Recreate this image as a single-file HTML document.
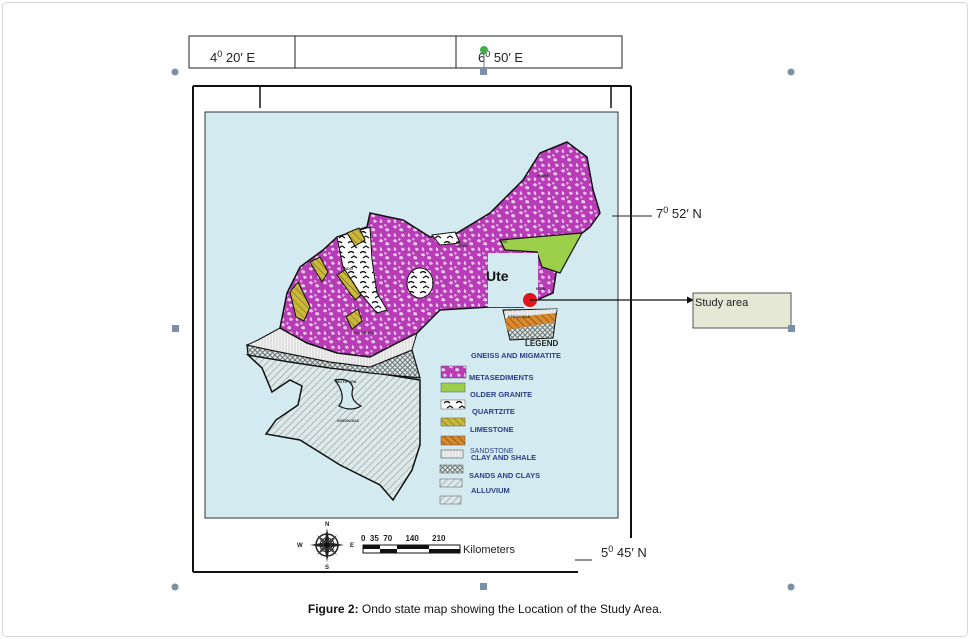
<!DOCTYPE html>
<html><head><meta charset="utf-8"><style>
html,body{margin:0;padding:0;background:#fff;}
svg{display:block;}
text{font-family:"Liberation Sans",sans-serif;}
.lg{font-size:7.5px;font-weight:bold;fill:#2b3f88;}
</style></head><body>
<svg width="970" height="639" viewBox="0 0 970 639" xmlns="http://www.w3.org/2000/svg">
<defs>
<pattern id="pink" width="14" height="14" patternUnits="userSpaceOnUse">
<rect width="14" height="14" fill="#b83cb8"/>
<path d="M1 2 q3 -2 4 1 q-1 3 -4 0z M8 4 q4 0 3 3 q-3 1 -4 -1z M2 9 q3 1 2 4 q-3 0 -2 -3z M9 10 q3 -1 4 2 l-3 1z M6 0 l3 1 -2 2z" fill="#ecc8ea"/>
</pattern>
<pattern id="hatch" width="5" height="5" patternUnits="userSpaceOnUse" patternTransform="rotate(45)">
<rect width="5" height="5" fill="#dde8e8"/><line x1="0" y1="0" x2="0" y2="5" stroke="#8a9a9a" stroke-width="1.2"/>
</pattern>
<pattern id="check" width="5" height="5" patternUnits="userSpaceOnUse">
<rect width="5" height="5" fill="#e2e8e8"/><path d="M0 0L5 5M5 0L0 5" stroke="#6a7575" stroke-width="1"/>
</pattern>
<pattern id="sand" width="3" height="6" patternUnits="userSpaceOnUse">
<rect width="3" height="6" fill="#f2f2f2"/><line x1="1" y1="0" x2="1" y2="6" stroke="#c8c8c8" stroke-width="0.8"/>
</pattern>
<pattern id="lime" width="5" height="5" patternUnits="userSpaceOnUse" patternTransform="rotate(-45)">
<rect width="5" height="5" fill="#c9b83a"/><line x1="0" y1="0" x2="0" y2="5" stroke="#6d5a1a" stroke-width="1"/>
</pattern>
<pattern id="orng" width="5" height="5" patternUnits="userSpaceOnUse" patternTransform="rotate(-45)">
<rect width="5" height="5" fill="#d98a2c"/><line x1="0" y1="0" x2="0" y2="5" stroke="#5a3a10" stroke-width="1"/>
</pattern>
<pattern id="qtz" width="12" height="10" patternUnits="userSpaceOnUse">
<rect width="12" height="10" fill="#fff"/><path d="M0 3 q3 -3 6 0 M3 8 l3 -2 3 2" stroke="#111" stroke-width="1.3" fill="none"/>
</pattern>
</defs>
<rect x="2.5" y="2.5" width="965" height="634" rx="4" fill="#fff" stroke="#d8d8d8"/>

<rect x="189" y="36" width="433" height="32" fill="#fff" stroke="#222" stroke-width="1"/>
<line x1="295" y1="36" x2="295" y2="68" stroke="#222"/>
<line x1="456" y1="36" x2="456" y2="68" stroke="#222"/>
<text x="210" y="62" font-size="13" fill="#222">4<tspan dy="-5" font-size="9">0</tspan><tspan dy="5"> 20′ E</tspan></text>
<text x="478" y="62" font-size="13" fill="#222">6<tspan dy="-5" font-size="9">0</tspan><tspan dy="5"> 50′ E</tspan></text>
<circle cx="484" cy="50" r="4" fill="#3cb043"/>
<line x1="484" y1="52" x2="484" y2="70" stroke="#777"/>

<line x1="193" y1="86" x2="631" y2="86" stroke="#111" stroke-width="2"/>
<line x1="193" y1="86" x2="193" y2="572" stroke="#111" stroke-width="2"/>
<line x1="631" y1="86" x2="631" y2="538" stroke="#111" stroke-width="2"/>
<line x1="193" y1="572" x2="578" y2="572" stroke="#111" stroke-width="2"/>
<line x1="260" y1="86" x2="260" y2="108" stroke="#111" stroke-width="1.5"/>
<line x1="611" y1="86" x2="611" y2="108" stroke="#111" stroke-width="1.5"/>

<rect x="205" y="112" width="413" height="406" fill="#d3eaf0" stroke="#333" stroke-width="1"/>

<path d="M248 355 L262 368 L272 392 L290 380 L302 386 L298 405 L276 420 L266 434 L300 440 L340 465 L380 485 L393 500 L412 470 L420 445 L420 380 L370 372 L330 368 L290 362Z" fill="url(#hatch)" stroke="#111" stroke-width="1.5"/>
<path d="M335 380 q15 -3 18 8 q-4 12 8 18 q-10 6 -22 0 q8 -10 -4 -26z" fill="#d3eaf0" stroke="#111" stroke-width="1.2"/>
<path d="M247 345 L270 350 L330 362 L370 367 L412 350 L420 378 L370 373 L330 368 L290 362 L248 355Z" fill="url(#check)" stroke="#111" stroke-width="1.2"/>
<path d="M258 340 L280 328 L307 343 L337 353 L370 357 L397 343 L417 333 L412 350 L370 367 L330 362 L270 350 L247 345Z" fill="url(#sand)" stroke="#111" stroke-width="1"/>
<path d="M280 328 L287 293 L300 267 L323 250 L337 237 L367 227 L370 213 L403 220 L430 237 L457 233 L490 213 L523 180 L540 153 L567 142 L587 157 L593 190 L600 213 L590 227 L577 237 L557 267 L553 293 L537 300 L523 307 L490 307 L440 310 L417 333 L397 343 L370 357 L337 353 L307 343Z" fill="url(#pink)" stroke="#111" stroke-width="1.5"/>
<path d="M337 237 L370 227 L372 260 L377 293 L387 310 L377 313 L360 293 L343 267Z" fill="url(#qtz)" stroke="#111" stroke-width="1"/>
<ellipse cx="420" cy="283" rx="13" ry="15" fill="url(#qtz)" stroke="#111"/>
<path d="M432 235 L455 232 L460 243 L440 245Z" fill="url(#qtz)" stroke="#111"/>
<path d="M310 262 l10 -5 l8 15 l-6 10z" fill="url(#lime)" stroke="#111"/>
<path d="M290 292 l8 -10 l12 25 l-6 14 l-8 -4z" fill="url(#lime)" stroke="#111"/>
<path d="M337 275 l8 -5 l16 25 l-6 5z" fill="url(#lime)" stroke="#111"/>
<path d="M346 317 l12 -8 l4 12 l-10 8z" fill="url(#lime)" stroke="#111"/>
<path d="M347 233 l12 -5 l6 12 l-10 6z" fill="url(#lime)" stroke="#111"/>
<path d="M500 240 L582 233 L560 273 L542 267 L537 252 L505 250Z" fill="#9dd04a" stroke="#111" stroke-width="1.2"/>
<rect x="488" y="253" width="50" height="54" fill="#d3eaf0"/>
<text x="486" y="281" font-size="14" font-weight="bold" fill="#111">Ute</text>
<path d="M503 310 L557 309 L553 338 L510 340Z" fill="url(#check)" stroke="#111"/>
<path d="M505 318 L556 312 L555 322 L507 330Z" fill="url(#orng)"/>
<path d="M504 311 L557 309 L556 313 L505 318Z" fill="url(#sand)"/>
<text x="525" y="346" font-size="8" font-weight="bold" fill="#222">LEGEND</text>
<g font-size="4" fill="#333" font-weight="bold">
<text x="537" y="177">IKARE</text><text x="500" y="243">IDO</text><text x="458" y="247">OWO</text><text x="341" y="270">ONDO</text>
<text x="353" y="334">OKITIPUPA</text><text x="536" y="290">IFON</text><text x="508" y="318">IGBOKODA</text>
<text x="335" y="383">OKITIPUPA</text><text x="337" y="422">IGBOKODA</text>
</g>
<circle cx="530" cy="300" r="7" fill="#e0151a"/>
<line x1="530" y1="300" x2="690" y2="300" stroke="#111" stroke-width="1.2"/>
<path d="M694 300 l-7 -3.5 v7z" fill="#111"/>
<rect x="693" y="293" width="98" height="35" fill="#e6e8d6" stroke="#555"/>
<text x="695" y="306" font-size="11" fill="#222">Study area</text>

<text x="471" y="358" class="lg">GNEISS AND MIGMATITE</text>
<rect x="441" y="366" width="25" height="12" fill="url(#pink)" stroke="#555" stroke-width="0.5"/>
<text x="469" y="380" class="lg">METASEDIMENTS</text>
<rect x="441" y="383" width="24" height="9" fill="#9dd04a" stroke="#555" stroke-width="0.5"/>
<text x="470" y="397" class="lg">OLDER GRANITE</text>
<rect x="441" y="400" width="24" height="9" fill="url(#qtz)" stroke="#555" stroke-width="0.5"/>
<text x="472" y="414" class="lg">QUARTZITE</text>
<rect x="441" y="418" width="24" height="8" fill="url(#lime)" stroke="#555" stroke-width="0.5"/>
<text x="470" y="432" class="lg">LIMESTONE</text>
<rect x="441" y="436" width="24" height="9" fill="url(#orng)" stroke="#555" stroke-width="0.5"/>
<rect x="441" y="450" width="22" height="8" fill="url(#sand)" stroke="#555" stroke-width="0.6"/>
<text x="470" y="453" font-size="7" fill="#2b3f88">SANDSTONE</text>
<text x="471" y="460" class="lg" font-size="6.5">CLAY AND SHALE</text>
<rect x="440" y="465" width="23" height="8" fill="url(#check)" stroke="#555" stroke-width="0.5"/>
<text x="469" y="478" class="lg">SANDS AND CLAYS</text>
<rect x="440" y="479" width="22" height="8" fill="url(#hatch)" stroke="#555" stroke-width="0.5"/>
<text x="471" y="493" class="lg">ALLUVIUM</text>
<rect x="440" y="496" width="21" height="8" fill="url(#hatch)" stroke="#555" stroke-width="0.5"/>

<g transform="translate(327,545)">
<circle r="11" fill="none" stroke="#222" stroke-width="1.5"/>
<circle r="7" fill="none" stroke="#222" stroke-width="1"/>
<path d="M0 -17 L3 0 L0 17 L-3 0Z M-17 0 L0 -3 L17 0 L0 3Z" fill="#222"/>
<path d="M-10 -10 L2 -2 L10 10 L-2 2Z M10 -10 L2 2 L-10 10 L-2 -2Z" fill="#444"/>
<circle r="3" fill="#111"/>
</g>
<g font-size="6" font-weight="bold" fill="#222">
<text x="325" y="526">N</text><text x="325" y="569">S</text><text x="297" y="547">W</text><text x="350" y="547">E</text>
</g>
<text x="361" y="541" font-size="8" font-weight="bold" fill="#222" xml:space="preserve">0  35  70      140      210</text>
<rect x="363" y="545" width="97" height="8" fill="#fff" stroke="#111" stroke-width="1"/>
<rect x="363" y="545" width="17" height="4" fill="#111"/>
<rect x="380" y="549" width="17" height="4" fill="#111"/>
<rect x="397" y="545" width="32" height="4" fill="#111"/>
<rect x="429" y="549" width="31" height="4" fill="#111"/>
<text x="463" y="553" font-size="11" fill="#222">Kilometers</text>

<line x1="612" y1="216" x2="652" y2="216" stroke="#222"/>
<text x="656" y="218" font-size="13" fill="#222">7<tspan dy="-5" font-size="9">0</tspan><tspan dy="5"> 52′ N</tspan></text>
<line x1="575" y1="560" x2="592" y2="560" stroke="#222"/>
<text x="601" y="557" font-size="13" fill="#222">5<tspan dy="-5" font-size="9">0</tspan><tspan dy="5"> 45′ N</tspan></text>

<g fill="#7a90a6">
<circle cx="175" cy="72" r="3.5"/><circle cx="791" cy="72" r="3.5"/>
<rect x="480" y="68" width="7" height="7"/>
<rect x="172" y="325" width="7" height="7"/><rect x="788" y="325" width="7" height="7"/>
<circle cx="175" cy="587" r="3.5"/><circle cx="791" cy="587" r="3.5"/>
<rect x="480" y="583" width="7" height="7"/>
</g>

<text x="485" y="613" font-size="12" fill="#111" text-anchor="middle"><tspan font-weight="bold">Figure 2:</tspan> Ondo state map showing the Location of the Study Area.</text>
</svg>
</body></html>
